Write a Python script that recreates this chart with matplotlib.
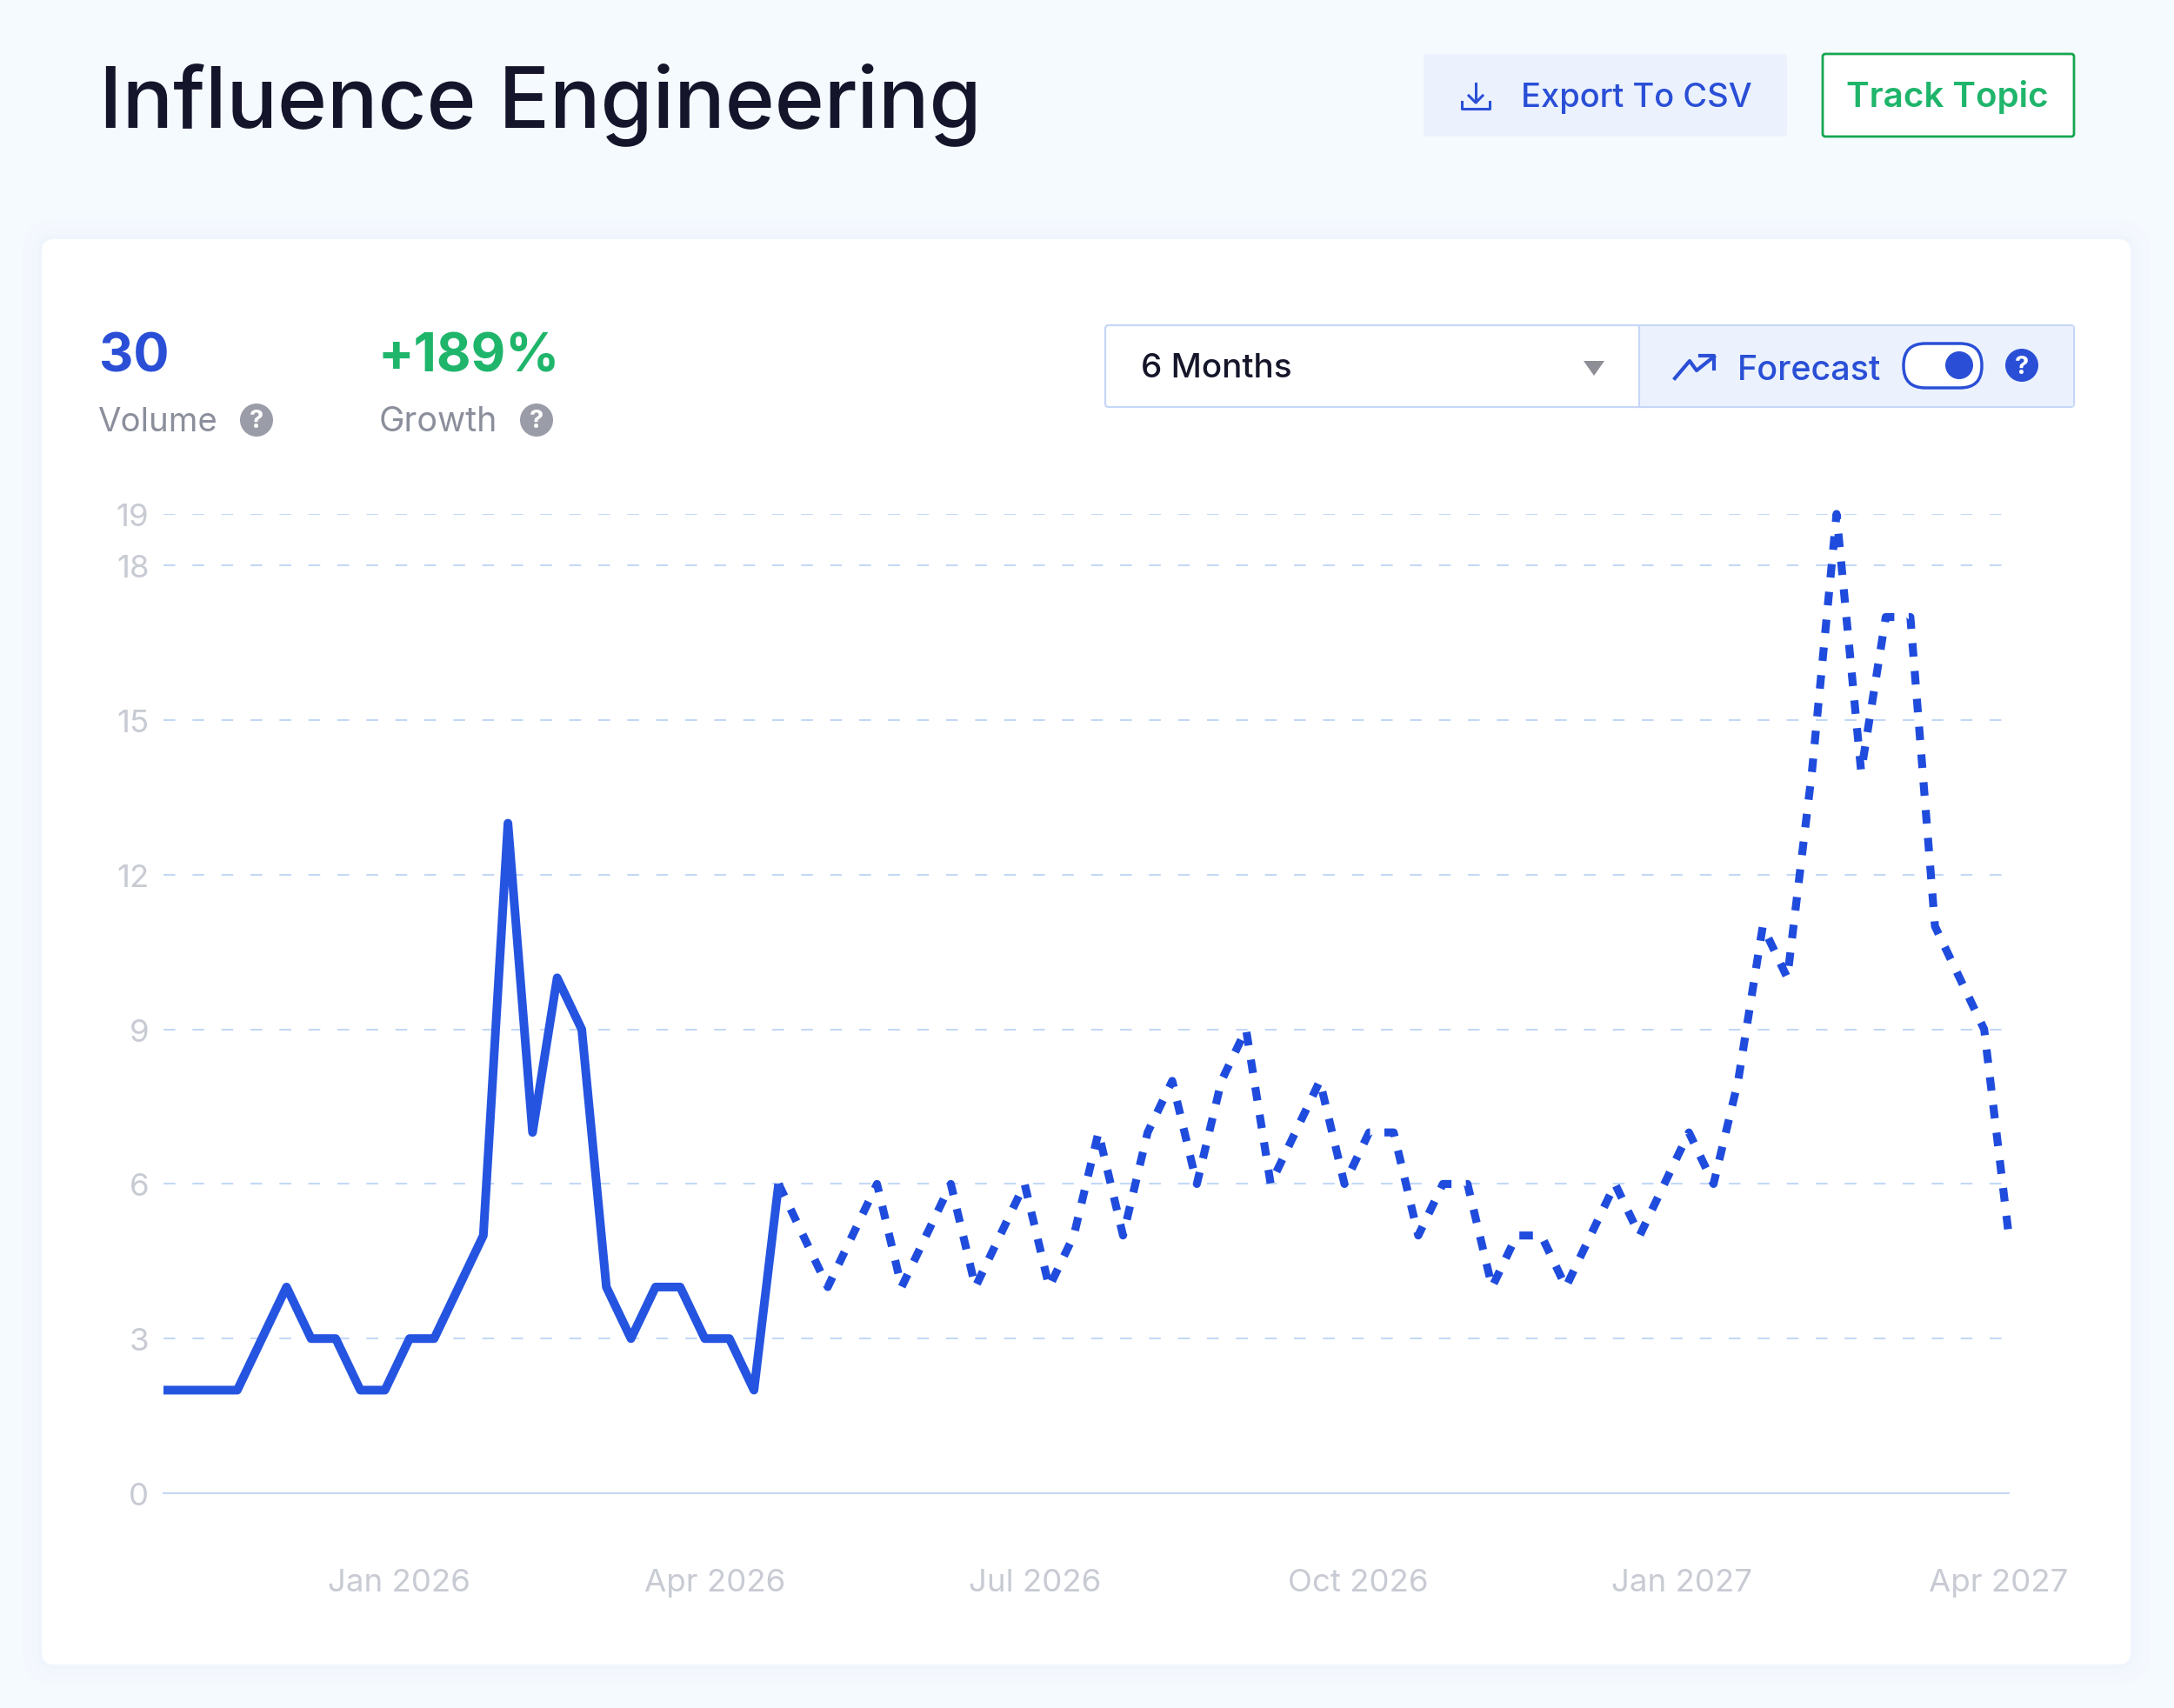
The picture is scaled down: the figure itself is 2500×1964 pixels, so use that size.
import pandas as pd
import matplotlib
matplotlib.use('Agg')
import matplotlib.pyplot as plt
from matplotlib.patches import Circle, FancyBboxPatch, Polygon, Rectangle

plt.rcParams['font.family'] = ['Inter', 'DejaVu Sans']

# datos de la serie (semanal)
start_date = '2025-10-26'
history = [2, 2, 2, 2, 3, 4, 3, 3, 2, 2, 3, 3, 4, 5, 13, 7, 10, 9, 4, 3, 4, 4, 3, 3, 2, 6]
forecast = [6, 5, 4, 5, 6, 4, 5, 6, 4, 5, 6, 4, 5, 7, 5, 7, 8, 6, 8, 9, 6, 7, 8, 6, 7, 7, 5, 6, 6, 4,
            5, 5, 4, 5, 6, 5, 6, 7, 6, 8, 11, 10, 14, 19, 14, 17, 17, 11, 10, 9, 5]
y_ticks = [0, 3, 6, 9, 12, 15, 18, 19]
x_tick_dates = ['2026-01-01', '2026-04-01', '2026-07-01', '2026-10-01', '2027-01-01', '2027-04-01']
x_tick_labels = ['Jan 2026', 'Apr 2026', 'Jul 2026', 'Oct 2026', 'Jan 2027', 'Apr 2027']

BLUE = '#2554E0'
BLUE_TEXT = '#2A4FD6'
GREEN = '#1FB56B'
GRAY = '#8B8E9B'
TICK = '#C8CBD3'
PALE = '#EBF2FE'
EDGE = '#C6D6F6'

W, H = 2500, 1965
fig = plt.figure(figsize=(W / 100, H / 100), dpi=100, facecolor='#F5FAFF')

# capa de interfaz en pixeles
ui = fig.add_axes([0, 0, 1, 1], zorder=0)
ui.set_xlim(0, W)
ui.set_ylim(H, 0)
ui.axis('off')


def box(x0, y0, x1, y1, fc, ec='none', lw=0, r=6, z=2):
    p = FancyBboxPatch((x0 + r, y0 + r), x1 - x0 - 2 * r, y1 - y0 - 2 * r,
                       boxstyle=f'round,pad={r},rounding_size={r}',
                       fc=fc, ec=ec, lw=lw, zorder=z)
    ui.add_patch(p)


def label(x, y, s, size, color, weight='normal'):
    ui.text(x, y, s, fontsize=size, color=color, fontweight=weight,
            ha='left', va='baseline', zorder=5)


def help_icon(x, y, color):
    ui.add_patch(Circle((x, y), 19, fc=color, ec='none', zorder=4))
    ui.text(x, y + 1, '?', fontsize=21, color='white', fontweight='bold',
            ha='center', va='center', zorder=5)


# sombra y tarjeta
for pad, col in [(22, '#F4F8FE'), (12, '#F2F7FE'), (5, '#F0F5FD')]:
    box(48 - pad, 276 - pad, 2450 + pad, 1915 + pad, col, r=16 + pad, z=1)
box(48, 276, 2450, 1915, 'white', r=14, z=2)

# cabecera
label(114, 146, 'Influence Engineering', 70, '#14142B', 'medium')
box(1637, 63, 2055, 158, PALE, r=5)
label(1749, 123, 'Export To CSV', 27.4, BLUE_TEXT, 'medium')
ui.plot([1697, 1697], [97, 118], color=BLUE_TEXT, lw=2.2, zorder=5)
ui.plot([1689, 1697, 1705], [111, 119, 111], color=BLUE_TEXT, lw=2.2, zorder=5)
ui.plot([1681, 1681, 1713, 1713], [118, 126, 126, 118], color=BLUE_TEXT, lw=2.2, zorder=5)
box(2096, 63, 2385, 158, 'white', ec='#17A651', lw=2, r=3)
label(2123, 123, 'Track Topic', 29, GREEN, 'semibold')

# metricas
label(114, 427, '30', 44, BLUE_TEXT, 'bold')
label(435, 427, '+189%', 44, GREEN, 'bold')
label(112, 496, 'Volume', 27.6, GRAY)
label(436, 496, 'Growth', 28.4, GRAY)
help_icon(295, 484, '#9A9CA8')
help_icon(617, 484, '#9A9CA8')

# selector y forecast
box(1271, 375, 2385, 469, 'white', ec=EDGE, lw=1.6, r=4)
ui.add_patch(Rectangle((1885, 376), 499, 92, fc=PALE, ec='none', zorder=3))
ui.plot([1885, 1885], [375, 469], color=EDGE, lw=1.5, zorder=4)
label(1312, 434, '6 Months', 27.8, '#16162B', 'medium')
ui.add_patch(Polygon([(1821, 416), (1845, 416), (1833, 433)], fc='#8E8E96', ec='none', zorder=4))
ui.plot([1926, 1943, 1951, 1971], [436, 416, 427, 411], color=BLUE_TEXT, lw=3, zorder=5)
ui.plot([1955, 1971, 1971], [410, 410, 425], color=BLUE_TEXT, lw=3, zorder=5)
label(1998, 437, 'Forecast', 28.4, BLUE_TEXT, 'medium')
box(2189, 396, 2279, 447, 'white', ec=BLUE_TEXT, lw=2.5, r=25, z=4)
ui.add_patch(Circle((2253, 421), 16, fc=BLUE_TEXT, ec='none', zorder=5))
help_icon(2325, 421, BLUE_TEXT)

# grafico
x0, x1, y_bot, y_top = 188, 2310, 1718, 592
ax = fig.add_axes([x0 / W, 1 - y_bot / H, (x1 - x0) / W, (y_bot - y_top) / H], zorder=3)
ax.patch.set_alpha(0)

dates = pd.date_range(start_date, periods=len(history) + len(forecast) - 1, freq='7D')
hist_dates = dates[:len(history)]
fc_dates = dates[len(history) - 1:]

for v in y_ticks[1:]:
    ax.plot(dates[[0, -1]], [v, v], color='#C3D8F6', lw=1.5, ls=(0, (6.5, 9.5)), zorder=1)
ax.plot(fc_dates, forecast, color='#1F4CDD', lw=6.6, ls=(0, (1.7, 1.8)), zorder=3,
        clip_on=False, dash_capstyle='butt', dash_joinstyle='round')
ax.plot(hist_dates, history, color=BLUE, lw=7.2, zorder=4, clip_on=False,
        solid_joinstyle='round', solid_capstyle='butt')

ax.set_xlim(dates[0], dates[-1])
ax.set_ylim(0, 19)
ax.set_yticks(y_ticks)
ax.set_xticks(pd.to_datetime(x_tick_dates))
ax.set_xticklabels(x_tick_labels)
ax.tick_params(axis='both', length=0, labelcolor=TICK, labelsize=26.4)
ax.tick_params(axis='x', pad=62)
ax.tick_params(axis='y', pad=12)
for side in ['top', 'right', 'left']:
    ax.spines[side].set_visible(False)
ax.spines['bottom'].set_color(EDGE)
ax.spines['bottom'].set_linewidth(1.5)

fig.savefig('out.png', dpi=100, facecolor=fig.get_facecolor())
